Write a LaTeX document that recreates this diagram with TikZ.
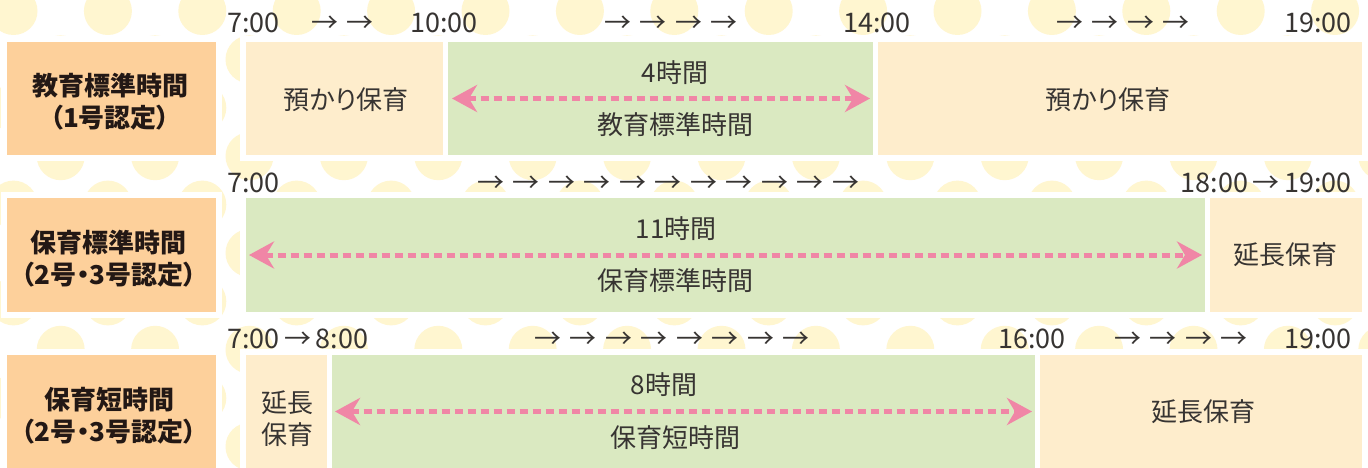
\documentclass[tikz,border=0pt]{standalone}
\usepackage{fontspec}
\usetikzlibrary{arrows.meta}
\newfontfamily\jp[RawFeature=+palt]{Noto Sans CJK JP}
\definecolor{peach}{RGB}{253,208,155}
\definecolor{cream}{RGB}{254,237,204}
\definecolor{leaf}{RGB}{218,233,193}
\definecolor{dotc}{RGB}{255,246,208}
\definecolor{pinkc}{RGB}{240,134,166}
\definecolor{ink}{RGB}{35,24,21}
\definecolor{bodyink}{RGB}{55,52,50}
\pgfdeclarelayer{dots}
\pgfdeclarelayer{under}
\pgfsetlayers{dots,under,main}
\newcommand\Ar{\makebox[35.5pt][l]{→}}
\tikzset{
  boxbase/.style={inner sep=0pt, outer sep=0pt, minimum width=#1},
  lblbox/.style={boxbase=209, fill=peach, minimum height=113},
  creambox/.style={boxbase=#1, fill=cream},
  leafbox/.style={boxbase=#1, fill=leaf},
  lbltext/.style={inner sep=0pt, align=center, text=ink, font=\jp\bfseries\fontsize{26}{32}\selectfont},
  bodytext/.style={inner sep=0pt, align=center, text=bodyink, font=\jp\fontsize{26}{32}\selectfont},
  timetext/.style={inner sep=0pt, anchor=base west, text=bodyink, font=\jp\fontsize{27}{27}\selectfont},
  timetextr/.style={timetext, anchor=base east},
  pinkarrow/.style={draw=pinkc, line width=5pt, dash pattern=on 8pt off 5pt,
    {Stealth[length=25pt,width=27pt,inset=8pt,fill=pinkc]}-{Stealth[length=25pt,width=27pt,inset=8pt,fill=pinkc]}}
}
\begin{document}
\begin{tikzpicture}[x=1pt,y=-1pt]
\useasboundingbox (0,0) rectangle (1368,468);
% background dots
\begin{pgfonlayer}{dots}
\fill[white] (0,0) rectangle (1368,468);
\begin{scope}
\clip (0,0) rectangle (1368,468);
\foreach \j in {0,...,9}{
  \pgfmathsetmacro\yy{11+48.4*\j}
  \pgfmathsetmacro\off{mod(\j,2)*47.2}
  \foreach \k in {-1,...,14}{
    \fill[dotc] (13.5+\off+94.4*\k,\yy) circle[radius=24];
  }
}
\end{scope}
\end{pgfonlayer}
% row 1
\node[lblbox] (L1) at (111.5,98.5) {};
\node[creambox=197, minimum height=113] (C1a) at (344.5,98.5) {};
\node[leafbox=425, minimum height=113] (G1) at (660.5,98.5) {};
\node[creambox=484, minimum height=113] (C1b) at (1120,98.5) {};
% row 2
\node[lblbox, minimum height=114] (L2) at (111.5,255) {};
\node[leafbox=959, minimum height=114] (G2) at (725.5,255) {};
\node[creambox=152, minimum height=114] (C2) at (1286,255) {};
% row 3
\node[lblbox] (L3) at (111.5,411.5) {};
\node[creambox=81, minimum height=113] (C3a) at (286.5,411.5) {};
\node[leafbox=703, minimum height=113] (G3) at (683.5,411.5) {};
\node[creambox=322, minimum height=113] (C3b) at (1201,411.5) {};
% white frames
\begin{pgfonlayer}{under}
\foreach \n in {L1,C1a,G1,C1b,L2,G2,C2,L3,C3a,G3,C3b}{
  \fill[white] ([shift={(-6,-6)}]\n.north west) rectangle ([shift={(6,6)}]\n.south east);
}
\end{pgfonlayer}
% label texts
\node[lbltext] (L1t) at (110,102) {教育標準時間\\（1号認定）};
\node[lbltext] (L2t) at (109,258.5) {保育標準時間\\（2号・3号認定）};
\node[lbltext] (L3t) at (109,415.5) {保育短時間\\（2号・3号認定）};
% body texts
\node[bodytext] (C1at) at (346,100) {預かり保育};
\node[bodytext] (G1a) at (675,73) {4時間};
\node[bodytext] (G1b) at (675,125) {教育標準時間};
\node[bodytext] (C1bt) at (1108,100) {預かり保育};
\node[bodytext] (G2a) at (676,229) {11時間};
\node[bodytext] (G2b) at (675,281) {保育標準時間};
\node[bodytext] (C2t) at (1285,255) {延長保育};
\node[bodytext] (C3at) at (287,419) {延長\\保育};
\node[bodytext] (G3a) at (664,385) {8時間};
\node[bodytext] (G3b) at (675,438) {保育短時間};
\node[bodytext] (C3bt) at (1203,412) {延長保育};
% pink arrows
\draw[pinkarrow] ([xshift=4]G1.west) -- ([xshift=-3]G1.east);
\draw[pinkarrow] ([xshift=3]G2.west) -- ([xshift=-3]G2.east);
\draw[pinkarrow] ([xshift=3]G3.west) -- ([xshift=-3]G3.east);
% time labels row 1
\node[timetext] (T1a) at (227,33) {7:00};
\node[timetext] (T1b) at (311,33) {\Ar→};
\node[timetext] (T1c) at (410,33) {10:00};
\node[timetext] (T1d) at (604,33) {\Ar\Ar\Ar→};
\node[timetext] (T1e) at (843,33) {14:00};
\node[timetext] (T1f) at (1056,33) {\Ar\Ar\Ar→};
\node[timetextr] (T1g) at (1352,33) {19:00};
% row 2
\node[timetext] (T2a) at (227,193) {7:00};
\node[timetext] (T2b) at (477,193) {\Ar\Ar\Ar\Ar\Ar\Ar\Ar\Ar\Ar\Ar→};
\node[timetextr] (T2c) at (1352,193) {18:00\,→\,19:00};
% row 3
\node[timetext] (T3a) at (227,348) {7:00\,→\,8:00};
\node[timetext] (T3b) at (534,348) {\Ar\Ar\Ar\Ar\Ar\Ar\Ar→};
\node[timetext] (T3c) at (998,348) {16:00};
\node[timetext] (T3d) at (1114,348) {\Ar\Ar\Ar→};
\node[timetextr] (T3e) at (1352,348) {19:00};
\end{tikzpicture}
\end{document}
